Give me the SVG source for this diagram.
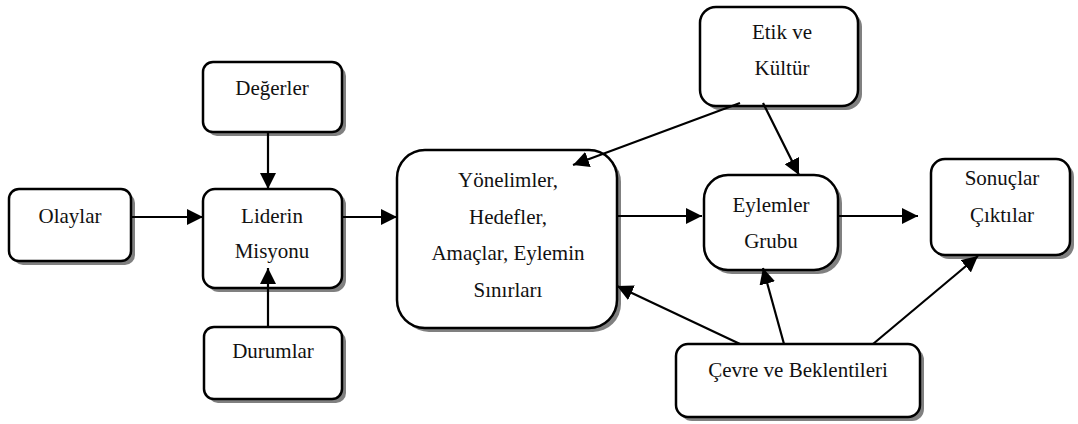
<svg xmlns="http://www.w3.org/2000/svg" width="1078" height="424" viewBox="0 0 1078 424">
<style>
.box{fill:#fff;stroke:#000;stroke-width:2.5}
.sh{fill:#808080;stroke:none}
text{font-family:'Liberation Serif','Times New Roman',Tinos,'DejaVu Serif',serif;font-size:21px;fill:#111;text-anchor:middle}
.c{stroke:#000;stroke-width:2.2;fill:none;marker-end:url(#ah)}
</style>
<defs>
<marker id="ah" markerUnits="userSpaceOnUse" markerWidth="16" markerHeight="16" viewBox="0 0 16 16" refX="16" refY="8" orient="auto">
<path d="M0,0 L16,8 L0,16 Z" fill="#000"/>
</marker>
</defs>
<rect width="1078" height="424" fill="#fff"/>
<g id="olaylar">
<rect class="sh" x="13" y="193" width="122" height="72" rx="10"/>
<rect class="box" x="9" y="189" width="122" height="72" rx="10"/>
<text x="70" y="223">Olaylar</text>
</g>
<g id="degerler">
<rect class="sh" x="207" y="66" width="139" height="70" rx="10"/>
<rect class="box" x="203" y="62" width="139" height="70" rx="10"/>
<text x="272" y="95">Değerler</text>
</g>
<g id="liderin">
<rect class="sh" x="207" y="193" width="139" height="99" rx="12"/>
<rect class="box" x="203" y="189" width="139" height="99" rx="12"/>
<text x="272" y="223">Liderin</text>
<text x="272" y="258">Misyonu</text>
</g>
<g id="durumlar">
<rect class="sh" x="208" y="331" width="138" height="72" rx="10"/>
<rect class="box" x="204" y="327" width="138" height="72" rx="10"/>
<text x="273" y="358">Durumlar</text>
</g>
<g id="yonelimler">
<rect class="sh" x="401" y="154" width="220" height="178" rx="28"/>
<rect class="box" x="397" y="150" width="220" height="178" rx="28"/>
<text x="508" y="187">Yönelimler,</text>
<text x="508" y="224">Hedefler,</text>
<text x="508" y="260">Amaçlar, Eylemin</text>
<text x="508" y="297">Sınırları</text>
</g>
<g id="etik">
<rect class="sh" x="704" y="11" width="158" height="99" rx="16"/>
<rect class="box" x="700" y="7" width="158" height="99" rx="16"/>
<text x="782" y="39">Etik ve</text>
<text x="782" y="75">Kültür</text>
</g>
<g id="eylemler">
<rect class="sh" x="708" y="179" width="134" height="95" rx="24"/>
<rect class="box" x="704" y="175" width="134" height="95" rx="24"/>
<text x="771" y="212">Eylemler</text>
<text x="771" y="248">Grubu</text>
</g>
<g id="sonuclar">
<rect class="sh" x="935" y="163" width="139" height="96" rx="14"/>
<rect class="box" x="931" y="159" width="139" height="96" rx="14"/>
<text x="1002" y="185">Sonuçlar</text>
<text x="1002" y="222">Çıktılar</text>
</g>
<g id="cevre">
<rect class="sh" x="680" y="348" width="244" height="73" rx="12"/>
<rect class="box" x="676" y="344" width="244" height="73" rx="12"/>
<text x="798" y="377">Çevre ve Beklentileri</text>
</g>
<g id="connectors">
<line class="c" x1="131" y1="217" x2="203" y2="217"/>
<line class="c" x1="268" y1="133" x2="268" y2="189"/>
<line class="c" x1="268" y1="327" x2="268" y2="268"/>
<line class="c" x1="342" y1="217" x2="397" y2="217"/>
<line class="c" x1="617" y1="216" x2="702" y2="216"/>
<line class="c" x1="838" y1="216" x2="918" y2="216"/>
<line class="c" x1="740" y1="103" x2="573" y2="165"/>
<line class="c" x1="763" y1="103" x2="799" y2="175"/>
<line class="c" x1="740" y1="344" x2="617" y2="286"/>
<line class="c" x1="784" y1="344" x2="763" y2="268"/>
<line class="c" x1="873" y1="344" x2="978" y2="256"/>
</g>
</svg>
